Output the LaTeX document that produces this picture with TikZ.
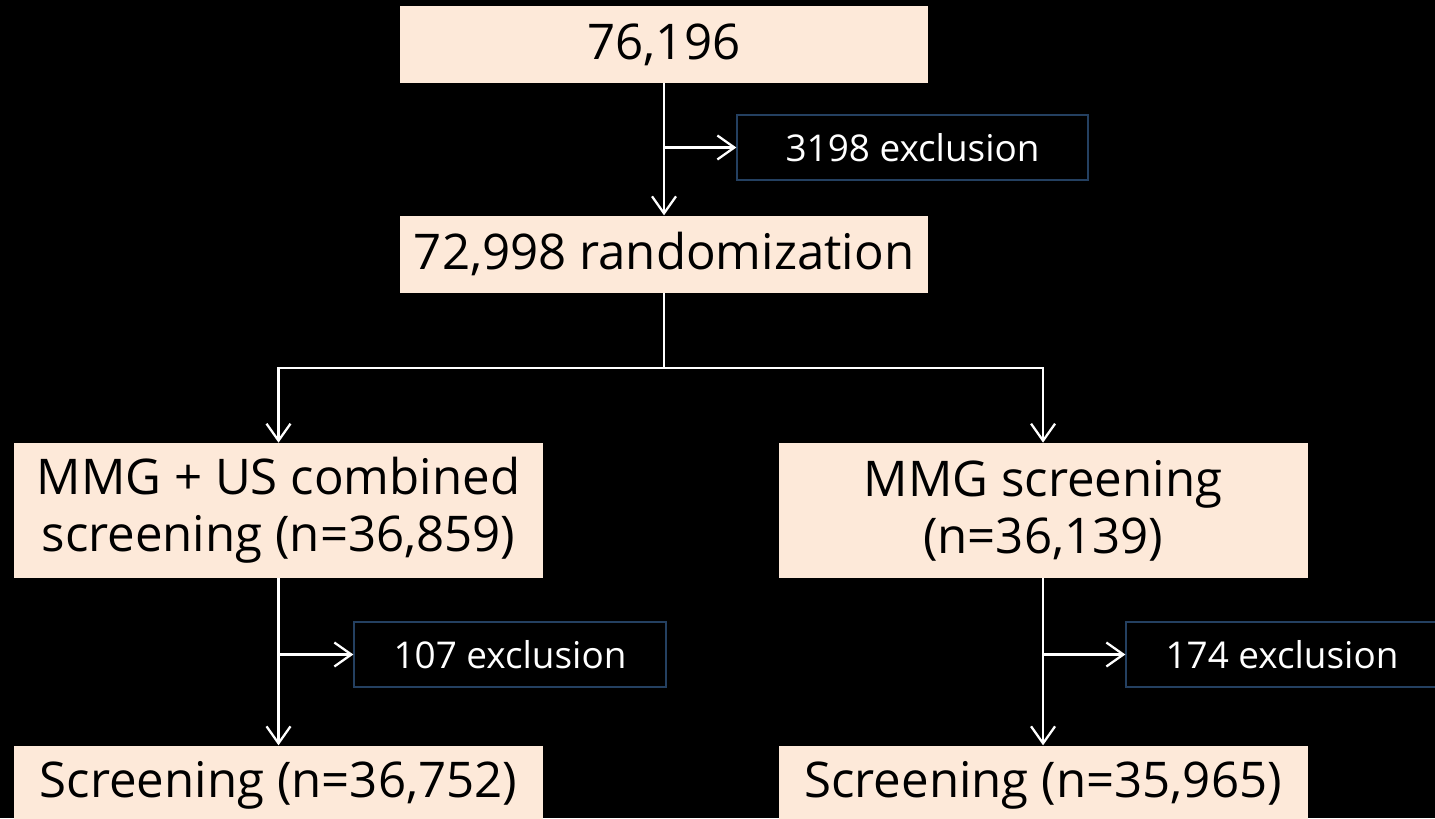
\documentclass[tikz,border=0pt]{standalone}
\usepackage{fontspec}
\setmainfont{Open Sans}
\usetikzlibrary{arrows.meta,positioning}
\definecolor{peach}{HTML}{FDE9D9}
\definecolor{navy}{RGB}{36,64,97}

\begin{document}
\begin{tikzpicture}[
    x=0.02cm, y=-0.02cm,
    node distance=1cm and 1.2cm,
    box/.style={fill=peach, text=black, align=center, inner sep=0pt, minimum width=10.58cm, minimum height=2.7cm, font=\fontsize{28}{32.4}\selectfont},
    excl/.style={draw=navy, line width=0.8pt, text=white, inner sep=0pt, minimum width=6.24cm, minimum height=1.3cm, font=\fontsize{21}{24}\selectfont},
    arrow/.style={-{Straight Barb[length=0.34cm, width=0.48cm, line width=1.3pt]}, white, line width=1.3pt}
]
% Background
\fill[black] (0,0) rectangle (1435,818);
\useasboundingbox (0,0) rectangle (1435,818);

% Top row
\node[box, minimum height=1.54cm] (total) at (664,44.5) {76,196};
\node[box, minimum height=1.54cm, below=2.64cm of total] (rand) {72,998 randomization};
\node[excl, minimum width=7.02cm] (ex0) at (912.5,147.5) {3198 exclusion};

% Two arms
\node[box] (combo) at (278.5,510.5) {MMG + US combined\\screening (n=36,859)};
\node[box, right=4.7cm of combo] (mmg) {MMG screening\\(n=36,139)};

% Exclusions per arm
\node[excl] (ex1) at (510,654.5) {107 exclusion};
\node[excl] (ex2) at (1282,654.5) {174 exclusion};

% Screened
\node[box, minimum height=1.6cm, below=3.34cm of combo] (scr1) {Screening (n=36,752)};
\node[box, minimum height=1.6cm, below=3.34cm of mmg] (scr2) {Screening (n=35,965)};

% Main flow arrows
\coordinate (split) at (total.south |- 0,368);
\draw[arrow] (total.south) -- (rand.north);
\draw[arrow] (total.south |- ex0.west) -- (ex0.west);
\draw[white, line width=1.3pt] (rand.south) -- (split);
\draw[arrow] (split) -| (combo.north);
\draw[arrow] (split) -| (mmg.north);

\draw[arrow] (combo.south) -- (scr1.north);
\draw[arrow] (combo.south |- ex1.west) -- (ex1.west);
\draw[arrow] (mmg.south) -- (scr2.north);
\draw[arrow] (mmg.south |- ex2.west) -- (ex2.west);
\end{tikzpicture}
\end{document}
